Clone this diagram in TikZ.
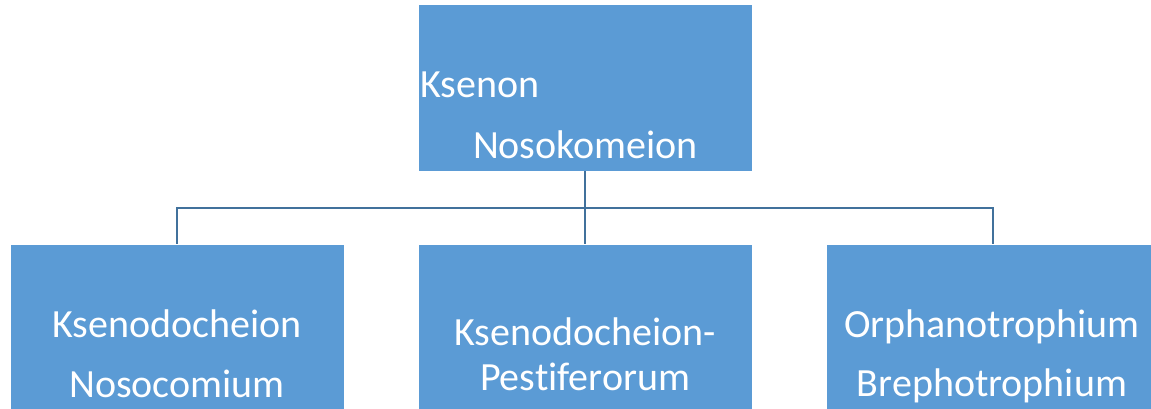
\documentclass[tikz,border=0pt]{standalone}
\usepackage{fontspec}
\setmainfont{Carlito}[Ligatures=CommonOff]
\definecolor{boxfill}{HTML}{5B9BD5}
\definecolor{connc}{HTML}{41719C}
\tikzset{
  orgbox/.style={draw=white, line width=1pt, fill=boxfill, minimum width=334pt, minimum height=166pt, inner sep=0pt, outer sep=0pt},
  lbl/.style={text=white, font=\fontsize{40}{48}\selectfont, inner sep=0pt, outer sep=0pt},
  conn/.style={draw=connc, line width=2.4pt}
}
\begin{document}
\begin{tikzpicture}[x=1pt,y=-1pt]
\useasboundingbox (0,0) rectangle (1151,409);
\begin{scope}
\clip (0,0) rectangle (1151,409);
\node[orgbox] (top) at (585,88) {};
\node[orgbox] (left) at (177,327) {};
\node[orgbox] (mid) at (585,327) {};
\node[orgbox] (right) at (993,327) {};
\coordinate (hub) at (585,208);
\draw[conn] (top.south) -- (hub);
\draw[conn] (hub) -| (left.north);
\draw[conn] (hub) -| (right.north);
\draw[conn] (hub) -- (mid.north);
\node[lbl, anchor=base west] (t1) at (420,98) {Ksenon};
\node[lbl, anchor=base west] (t2) at (473,158) {Nosokomeion};
\node[lbl, anchor=base] (l1) at (177,337) {Ksenodocheion};
\node[lbl, anchor=base] (l2) at (177,397) {Nosocomium};
\node[lbl, anchor=base] (m1) at (585,345) {Ksenodocheion-};
\node[lbl, anchor=base] (m2) at (585,390) {Pestiferorum};
\node[lbl, anchor=base] (r1) at (992,337) {Orphanotrophium};
\node[lbl, anchor=base] (r2) at (992,396) {Brephotrophium};
\end{scope}
\end{tikzpicture}
\end{document}
